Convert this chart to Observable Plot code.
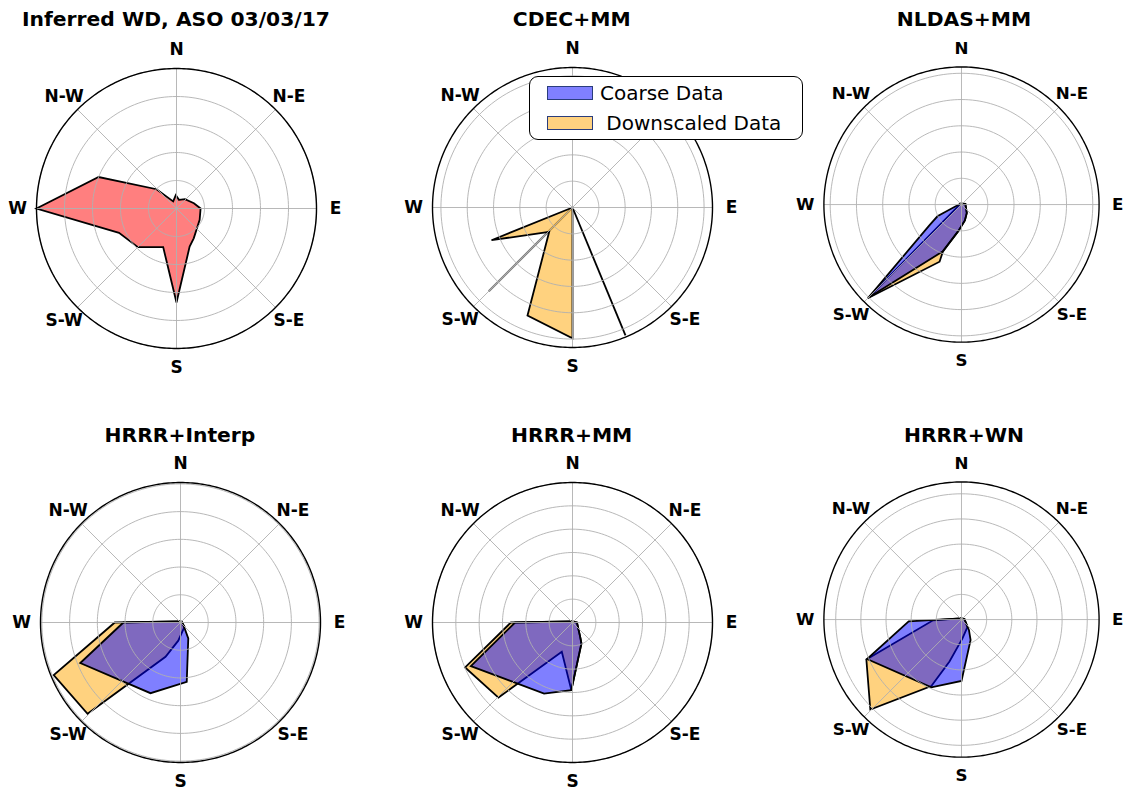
<!DOCTYPE html>
<html><head><meta charset="utf-8">
<script src="https://cdn.jsdelivr.net/npm/d3@7"></script>
<script src="https://cdn.jsdelivr.net/npm/@observablehq/plot@0.6"></script>
<style>
html,body{margin:0;padding:0;background:#fff;overflow:hidden;}
#root{position:relative;width:1133px;height:791px;font-family:"DejaVu Sans",sans-serif;color:#000;}
.title{position:absolute;width:400px;text-align:center;font-weight:bold;font-size:20.3px;line-height:1;white-space:nowrap;}
.panel{position:absolute;}
.legend{position:absolute;left:529px;top:76px;width:274px;height:64px;box-sizing:border-box;border:1.5px solid #000;border-radius:9px;background:#fff;}
.legend .patch{position:absolute;left:17px;width:46px;height:14px;box-sizing:border-box;border:1.5px solid #2a3d7c;}
.legend .lab{position:absolute;left:70px;font-size:20px;line-height:1;white-space:pre;}
</style></head><body><div id="root"></div>
<script>
// ---- Data ----
const directions = ["N", "N-E", "E", "S-E", "S", "S-W", "W", "N-W"];
const directionBearings = [0, 45, 90, 135, 180, 225, 270, 315];

const panelTitles = ["Inferred WD, ASO 03/03/17", "CDEC+MM", "NLDAS+MM", "HRRR+Interp", "HRRR+MM", "HRRR+WN"];
const panelRmax = [5, 5.32, 5.24, 5.05, 6, 5.47];

// Inferred WD (ASO)
const asoBearing = [17, 42, 73, 90, 116, 150, 161, 180, 199, 225, 247, 270, 292, 314, 335, 357];
const asoRadius  = [0.32, 0.45, 0.65, 0.86, 0.92, 1.23, 1.44, 3.36, 1.46, 1.95, 2.23, 5.0, 3.0, 0.99, 0.28, 0.48];

// CDEC+MM
const cdecDownBearing = [0, 180, 202.6, 223.8, 248];
const cdecDownRadius  = [0, 4.97, 4.45, 1.28, 3.32];
const cdecCoarseBearing = [0, 157.5];
const cdecCoarseRadius  = [0, 5.26];
const cdecGrayBearing = [0, 225];
const cdecGrayRadius  = [0, 4.5];

// NLDAS+MM
const nldasCoarseBearing = [80, 148, 168, 187, 202, 225, 237, 244, 320];
const nldasCoarseRadius  = [0.15, 0.38, 0.62, 1.02, 1.93, 5.0, 1.47, 1.02, 0.05];
const nldasDownBearing = [80, 148, 168, 187, 201.6, 201, 225, 320];
const nldasDownRadius  = [0.15, 0.38, 0.62, 1.02, 1.93, 2.33, 5.05, 0.05];

// HRRR+Interp
const interpDownBearing = [60, 137, 187, 203.6, 225.5, 247.5, 270, 330];
const interpDownRadius  = [0.05, 0.21, 0.66, 1.35, 4.7, 4.95, 2.37, 0.05];
const interpCoarseBearing = [60, 140, 154, 174, 203, 248, 270, 330];
const interpCoarseRadius  = [0.05, 0.2, 0.64, 2.15, 2.77, 3.9, 2.06, 0.05];

// HRRR+MM
const mmDownBearing = [90, 152, 157, 181, 200, 224.6, 247.3, 270, 330];
const mmDownRadius  = [0.19, 0.7, 0.98, 2.9, 1.34, 4.52, 4.99, 2.64, 0.05];
const mmCoarseBearing = [90, 152, 157, 181, 201.8, 246.8, 270, 330];
const mmCoarseRadius  = [0.19, 0.7, 0.98, 2.9, 3.28, 4.74, 2.46, 0.05];

// HRRR+WN
const wnDownBearing = [80, 142, 177, 196, 204.4, 225.4, 247.3, 268.5, 330];
const wnDownRadius  = [0.12, 0.38, 0.75, 1.73, 2.9, 5.09, 4.1, 1.13, 0.05];
const wnCoarseBearing = [80, 145, 156, 180, 204, 247.3, 268, 330];
const wnCoarseRadius  = [0.12, 0.52, 0.89, 2.44, 2.95, 4.07, 2.1, 0.05];

const legendLabels = ["Coarse Data", " Downscaled Data"];

// ---- Layout ----
const centers = [[176, 208], [571.7, 207.3], [964, 207.3], [180, 621.7], [571.7, 622.3], [964, 622.3]];
const titleTops = [9.0, 9.0, 9.0, 424.8, 424.8, 424.8];
// direction labels hidden behind the legend box in the reference
const hiddenLabels = [[], ["N-E"], [], [], [], []];
const W = 350, H = 340, FR = 140; // frame radius px

const rad = d => d * Math.PI / 180;
const toXY = (bs, rs) => bs.map((b, i) => ({x: rs[i] * Math.sin(rad(b)), y: rs[i] * Math.cos(rad(b))}));

const series = [
  [{b: asoBearing, r: asoRadius, fill: "red"}],
  [{b: cdecGrayBearing, r: cdecGrayRadius, line: "#7a7a7a", width: 2.2},
   {b: cdecDownBearing, r: cdecDownRadius, fill: "orange"},
   {b: cdecCoarseBearing, r: cdecCoarseRadius, line: "black", width: 1.8}],
  [{b: nldasDownBearing, r: nldasDownRadius, fill: "orange"},
   {b: nldasCoarseBearing, r: nldasCoarseRadius, fill: "blue"}],
  [{b: interpDownBearing, r: interpDownRadius, fill: "orange"},
   {b: interpCoarseBearing, r: interpCoarseRadius, fill: "blue"}],
  [{b: mmDownBearing, r: mmDownRadius, fill: "orange"},
   {b: mmCoarseBearing, r: mmCoarseRadius, fill: "blue"}],
  [{b: wnDownBearing, r: wnDownRadius, fill: "orange"},
   {b: wnCoarseBearing, r: wnCoarseRadius, fill: "blue"}]
];

const root = document.getElementById("root");

panelTitles.forEach((title, i) => {
  const [cx, cy] = centers[i];
  const rmax = panelRmax[i];
  const Lx = rmax * (W / 2) / FR, Ly = rmax * (H / 2) / FR;

  const rings = [];
  for (let k = 1; k <= Math.floor(rmax + 1e-9); k++) {
    for (let a = 0; a <= 360; a += 2) rings.push({x: k * Math.sin(rad(a)), y: k * Math.cos(rad(a)), ring: k});
  }
  const frame = d3.range(0, 361, 1).map(a => ({x: rmax * Math.sin(rad(a)), y: rmax * Math.cos(rad(a))}));
  const labelR = rmax * 159 / FR;
  const labels = directions.map((t, j) => ({t, b: directionBearings[j]})).filter(d => !hiddenLabels[i].includes(d.t));

  const marks = [];
  for (const s of series[i]) {
    const pts = toXY(s.b, s.r);
    if (s.fill) {
      marks.push(Plot.line(pts, {x: "x", y: "y", curve: "linear-closed", fill: s.fill, fillOpacity: 0.5,
        stroke: "black", strokeWidth: 1.8, strokeLinejoin: "miter", strokeMiterlimit: 4}));
    } else {
      marks.push(Plot.line(pts, {x: "x", y: "y", stroke: s.line, strokeWidth: s.width, strokeLinecap: "butt"}));
    }
  }
  marks.push(
    Plot.line(rings, {x: "x", y: "y", z: "ring", stroke: "#b0b0b0", strokeWidth: 0.9}),
    Plot.link(directionBearings, {x1: () => 0, y1: () => 0,
      x2: b => rmax * Math.sin(rad(b)), y2: b => rmax * Math.cos(rad(b)), stroke: "#b0b0b0", strokeWidth: 0.9}),
    Plot.line(frame, {x: "x", y: "y", stroke: "black", strokeWidth: 1.4}),
    Plot.text(labels, {x: d => labelR * Math.sin(rad(d.b)), y: d => labelR * Math.cos(rad(d.b)), text: "t",
      fontSize: 17, fontWeight: "bold", textAnchor: "middle", lineAnchor: "middle", fill: "black"})
  );

  const svg = Plot.plot({
    width: W, height: H, margin: 0,
    x: {domain: [-Lx, Lx], axis: null},
    y: {domain: [-Ly, Ly], axis: null},
    style: {fontFamily: "DejaVu Sans", background: "transparent", overflow: "visible"},
    marks
  });
  const wrap = document.createElement("div");
  wrap.className = "panel";
  wrap.style.left = (cx - W / 2) + "px";
  wrap.style.top = (cy - H / 2) + "px";
  wrap.appendChild(svg);
  root.appendChild(wrap);

  const t = document.createElement("div");
  t.className = "title";
  t.textContent = title;
  t.style.left = (cx - 200) + "px";
  t.style.top = titleTops[i] + "px";
  root.appendChild(t);
});

// Legend
const legend = document.createElement("div");
legend.className = "legend";
const legendFills = ["rgb(128,128,255)", "rgb(255,210,128)"];
legendLabels.forEach((lab, j) => {
  const p = document.createElement("div");
  p.className = "patch";
  p.style.top = (9.2 + 30 * j) + "px";
  p.style.background = legendFills[j];
  legend.appendChild(p);
  const l = document.createElement("div");
  l.className = "lab";
  l.style.top = (6.3 + 30 * j) + "px";
  l.textContent = lab;
  legend.appendChild(l);
});
root.appendChild(legend);
</script></body></html>
